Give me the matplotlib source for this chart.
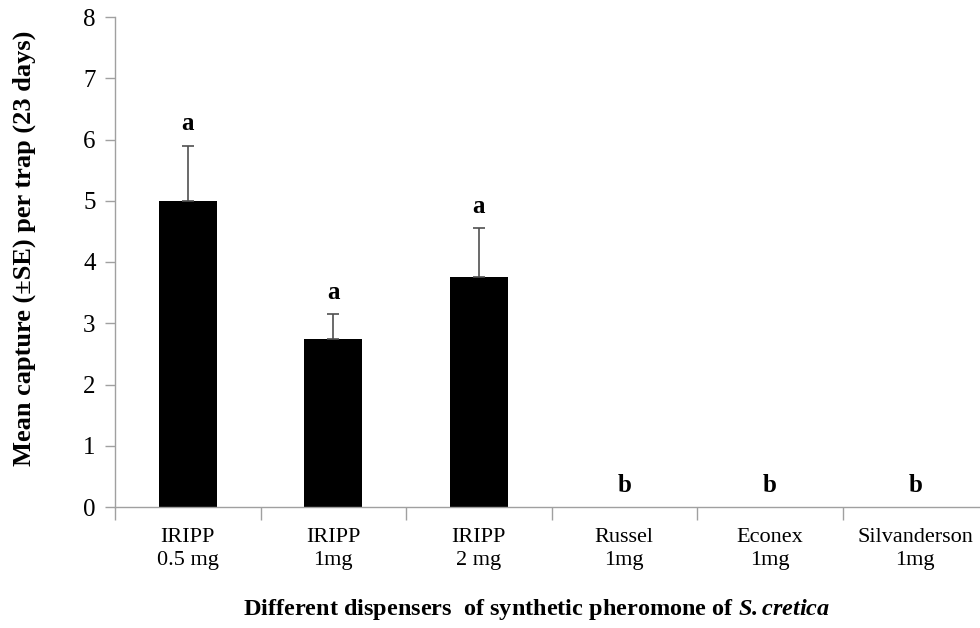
import matplotlib

matplotlib.use("Agg")
import matplotlib.pyplot as plt
import numpy as np

categories = ["IRIPP\n0.5 mg", "IRIPP\n1mg", "IRIPP\n2 mg", "Russel\n1mg", "Econex\n1mg", "Silvanderson\n1mg"]
mean_capture = [5.0, 2.75, 3.75, 0.0, 0.0, 0.0]
std_error = [0.9, 0.4, 0.8, 0.0, 0.0, 0.0]
letters = ["a", "a", "a", "b", "b", "b"]

plt.rcParams["font.family"] = ["Liberation Serif", "DejaVu Serif"]
# species name in the axis title is bold italic
plt.rcParams["mathtext.fontset"] = "custom"
plt.rcParams["mathtext.it"] = "Liberation Serif:italic:bold"
plt.rcParams["mathtext.rm"] = "Liberation Serif:italic:bold"

fig = plt.figure(figsize=(9.8, 6.28), dpi=100)
ax = fig.add_axes([115 / 980, 1 - 507 / 628, 873 / 980, 490 / 628])

x = np.arange(len(categories))
ax.bar(x, mean_capture, width=0.4, color="black", zorder=2)
has_err = np.array(std_error) > 0
ax.errorbar(x[has_err], np.array(mean_capture)[has_err],
            yerr=[np.zeros(has_err.sum()), np.array(std_error)[has_err]],
            fmt="none", ecolor="#505050", elinewidth=1.2, capsize=4.5, capthick=1.2, zorder=3)

# significance letters sit just above each error bar
for xi, m, e, lab in zip(x, mean_capture, std_error, letters):
    ax.text(xi, m + e + 0.25, lab, ha="center", va="baseline",
            fontsize=18, fontweight="bold")

ax.set_xlim(-0.5, len(categories) - 0.5)
ax.set_ylim(0, 8)
ax.set_yticks(range(0, 9))
ax.tick_params(axis="y", labelsize=18, length=7, color="#a0a0a0", width=1, pad=7)

# category labels in the middle, ticks on the boundaries
ax.set_xticks(x)
ax.set_xticklabels(categories, fontsize=16, linespacing=1.3)
ax.tick_params(axis="x", length=0, pad=15)
ax.set_xticks(np.arange(-0.5, len(categories)), minor=True)
ax.tick_params(axis="x", which="minor", length=9, color="#a0a0a0", width=1)

for side in ["top", "right"]:
    ax.spines[side].set_visible(False)
for side in ["left", "bottom"]:
    ax.spines[side].set_color("#a0a0a0")
    ax.spines[side].set_linewidth(1)

fig.text(24 / 980, 1 - 248 / 628, "Mean capture (\u00b1SE) per trap (23 days)",
         rotation=90, ha="center", va="center", fontsize=19, fontweight="bold")

fig.text(537 / 980, 1 - 610 / 628,
         r"Different dispensers  of synthetic pheromone of $\mathit{S{.}cretica}$",
         ha="center", va="center", fontsize=17.5, fontweight="bold")

fig.savefig("out.png", dpi=100)
